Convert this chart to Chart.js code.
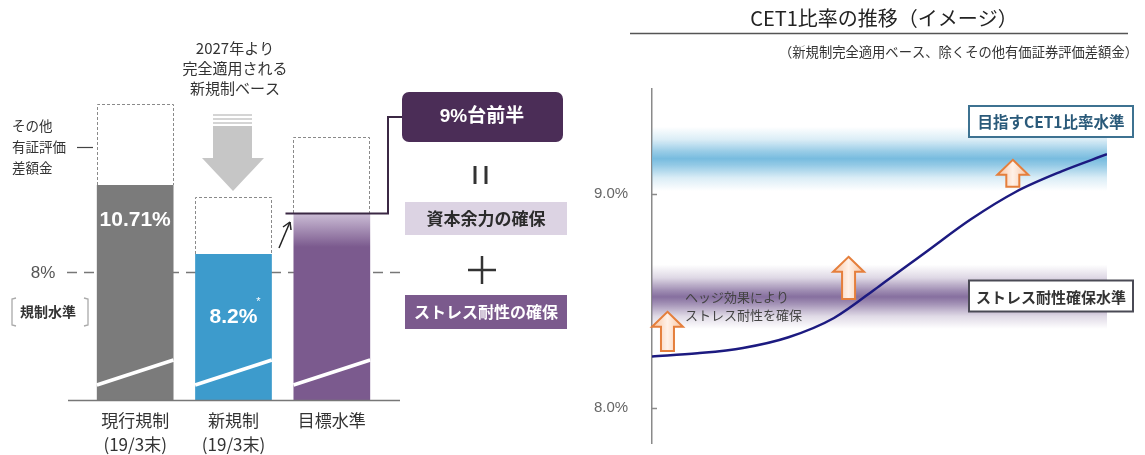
<!DOCTYPE html>
<html>
<head>
<meta charset="utf-8">
<script src="https://cdn.jsdelivr.net/npm/chart.js@4.4.1/dist/chart.umd.min.js"></script>
<style>
  html, body { margin: 0; padding: 0; background: #fff; }
  #wrap { position: relative; width: 1145px; height: 455px; overflow: hidden; }
  #left { position: absolute; left: 0; top: 0; }
  #right { position: absolute; left: 585px; top: 0; }
</style>
</head>
<body>
<div id="wrap">
  <canvas id="left" width="585" height="455"></canvas>
  <canvas id="right" width="560" height="455"></canvas>
</div>
<script>
// --- DATA ---
// left: bar heights are an image (イメージ) in chart units (8 = 規制水準)
const barCategories = [['現行規制', '(19/3末)'], ['新規制', '(19/3末)'], ['目標水準']];
const filledHeights = [13.44, 9.13, 11.69];
const outlineTops = [18.5, 12.69, 16.44];
const barValueLabels = ['10.71%', '8.2%', ''];
const regulatoryLevel = 8;

// right: CET1 ratio path
const xSteps = [0, 1, 2, 3, 4, 5, 6, 7, 8, 9, 10];
const cet1Ratio = [8.24, 8.255, 8.28, 8.33, 8.42, 8.57, 8.725, 8.88, 9.01, 9.105, 9.185];
const yTickValues = [8, 9];
const bandLevels = [9.164, 8.519];   // 目指すCET1比率水準, ストレス耐性確保水準
const bandHalf = 0.15;

// --- STYLE ---
const FONT = "'Liberation Sans', 'Noto Sans CJK JP', sans-serif";
const JP = "'Noto Sans CJK JP', sans-serif";
const barColors = ['#7b7b7b', '#3d9bcc', '#7b5a8e'];
const bandColors = ['112,184,221', '128,104,154'];

// annotation placement (x in data units, y in ratio units)
const upArrows = [
  { x: 0.34, tip: 8.449, base: 8.266 },
  { x: 4.32, tip: 8.706, base: 8.509 },
  { x: 7.93, tip: 9.159, base: 9.033 }
];

const line = (ctx, x1, y1, x2, y2) => {
  ctx.beginPath(); ctx.moveTo(x1, y1); ctx.lineTo(x2, y2); ctx.stroke();
};
const text = (ctx, str, x, y, font, color, align = 'center') => {
  ctx.font = font; ctx.fillStyle = color;
  ctx.textAlign = align; ctx.textBaseline = 'middle';
  ctx.fillText(str, x, y);
};

// --- LEFT CHART DECOR ---
const leftDecor = {
  id: 'leftDecor',
  beforeDatasetsDraw(chart) {
    const { ctx, scales: { y } } = chart;
    ctx.save();
    const ly = Math.round(y.getPixelForValue(regulatoryLevel)) + 0.5;
    ctx.strokeStyle = '#777'; ctx.lineWidth = 1.5; ctx.setLineDash([10, 7]);
    line(ctx, 67, ly, 400, ly);
    ctx.restore();
  },
  afterDatasetsDraw(chart) {
    const { ctx, chartArea: a } = chart;
    const filled = chart.getDatasetMeta(0).data;
    const upper = chart.getDatasetMeta(1).data;
    ctx.save();

    // dashed outline for その他有証評価差額金
    ctx.strokeStyle = '#8a8a8a'; ctx.lineWidth = 1; ctx.setLineDash([3, 2]);
    upper.forEach(b => {
      const l = Math.round(b.x - b.width / 2) + 0.5;
      const r = Math.round(b.x + b.width / 2) - 0.5;
      const t = Math.round(b.y) + 0.5;
      ctx.beginPath();
      ctx.moveTo(l, Math.round(b.base)); ctx.lineTo(l, t); ctx.lineTo(r, t); ctx.lineTo(r, Math.round(b.base));
      ctx.stroke();
    });
    ctx.setLineDash([]);

    // white break marks near the bottom
    ctx.strokeStyle = '#fff'; ctx.lineWidth = 3.5;
    filled.forEach(b => {
      line(ctx, b.x - b.width / 2, b.base - 15, b.x + b.width / 2, b.base - 40);
    });

    // baseline
    ctx.strokeStyle = '#777'; ctx.lineWidth = 1.5;
    line(ctx, 68, a.bottom + 0.5, 400, a.bottom + 0.5);

    // value labels
    const labelOffsets = [35, 63, 0];
    filled.forEach((b, i) => {
      if (!barValueLabels[i]) return;
      text(ctx, barValueLabels[i], b.x, b.y + labelOffsets[i], 'bold 21px ' + FONT, '#fff');
    });
    text(ctx, '*', filled[1].x + 25, filled[1].y + 48, '11px ' + FONT, '#fff');

    // connector from target bar to 9%台前半 box
    const t3 = filled[2];
    const ty = Math.round(t3.y) + 0.5;
    ctx.strokeStyle = '#3b2844'; ctx.lineWidth = 2;
    ctx.beginPath();
    ctx.moveTo(t3.x - t3.width / 2 - 8, ty);
    ctx.lineTo(388, ty); ctx.lineTo(388, 117); ctx.lineTo(403, 117);
    ctx.stroke();

    // small arrow from 新規制 toward 目標水準
    ctx.strokeStyle = '#222'; ctx.lineWidth = 1.5;
    line(ctx, 279, 248, 290, 222);
    line(ctx, 290, 222, 283, 227);
    line(ctx, 290, 222, 291, 230);

    // gray down arrow
    ctx.fillStyle = '#d4d4d4';
    [114, 118, 122].forEach(yy => ctx.fillRect(213, yy, 39, 2));
    ctx.fillStyle = '#c6c6c6';
    ctx.fillRect(213, 126, 39, 33);
    ctx.beginPath();
    ctx.moveTo(202, 158); ctx.lineTo(264, 158); ctx.lineTo(233, 191); ctx.closePath();
    ctx.fill();

    // heading above the arrow
    ['2027年より', '完全適用される', '新規制ベース'].forEach((s, i) =>
      text(ctx, s, 235, 48 + i * 20, '15px ' + JP, '#333'));

    // その他有証評価差額金
    ['その他', '有証評価', '差額金'].forEach((s, i) =>
      text(ctx, s, 12, 126 + i * 21, '13.5px ' + JP, '#333', 'left'));
    ctx.strokeStyle = '#444'; ctx.lineWidth = 1.2;
    line(ctx, 77, 147.5, 93, 147.5);

    // 8% 規制水準
    text(ctx, '8%', 43, 273, '17px ' + FONT, '#555');
    text(ctx, '規制水準', 48, 312, 'bold 14px ' + JP, '#333');
    ctx.strokeStyle = '#aaa'; ctx.lineWidth = 1.3;
    ctx.beginPath();
    ctx.moveTo(16, 298); ctx.lineTo(12, 299); ctx.lineTo(12, 325); ctx.lineTo(16, 326);
    ctx.moveTo(84, 298); ctx.lineTo(88, 299); ctx.lineTo(88, 325); ctx.lineTo(84, 326);
    ctx.stroke();

    // right-hand explanation boxes
    ctx.fillStyle = '#4b2d57';
    ctx.beginPath(); ctx.roundRect(402, 92, 161, 50, 7); ctx.fill();
    text(ctx, '9%台前半', 482, 117, 'bold 19px ' + FONT, '#fff');

    ctx.strokeStyle = '#333'; ctx.lineWidth = 3;
    line(ctx, 475, 166, 475, 184);
    line(ctx, 486, 166, 486, 184);

    ctx.fillStyle = '#dcd3e3';
    ctx.fillRect(405, 202, 162, 33);
    text(ctx, '資本余力の確保', 486, 219, 'bold 17px ' + JP, '#2b2b2b');

    ctx.lineWidth = 2.5;
    line(ctx, 468, 270, 496, 270);
    line(ctx, 482, 256, 482, 284);

    ctx.fillStyle = '#7b5a8d';
    ctx.fillRect(405, 295, 162, 34);
    text(ctx, 'ストレス耐性の確保', 486, 312, 'bold 16px ' + JP, '#fff');

    ctx.restore();
  }
};

const remainder = outlineTops.map((t, i) => t - filledHeights[i]);

new Chart(document.getElementById('left'), {
  type: 'bar',
  data: {
    labels: barCategories,
    datasets: [
      {
        data: filledHeights,
        backgroundColor: (c) => {
          const i = c.dataIndex;
          if (i !== 2) return barColors[i];
          const ch = c.chart;
          if (!ch.chartArea) return barColors[2];
          const top = ch.scales.y.getPixelForValue(filledHeights[2]);
          const g = ch.ctx.createLinearGradient(0, top, 0, top + 34);
          g.addColorStop(0, '#cdbfd7');
          g.addColorStop(1, barColors[2]);
          return g;
        },
        borderWidth: 0,
        barPercentage: 0.78,
        categoryPercentage: 1
      },
      {
        data: remainder,
        backgroundColor: '#fff',
        borderWidth: 0,
        barPercentage: 0.78,
        categoryPercentage: 1
      }
    ]
  },
  options: {
    responsive: false,
    animation: false,
    events: [],
    layout: { padding: { left: 86, right: 204, top: 80, bottom: 0 } },
    plugins: { legend: { display: false }, tooltip: { enabled: false } },
    scales: {
      x: {
        stacked: true,
        grid: { display: false, drawTicks: false },
        border: { display: false },
        ticks: {
          font: { family: JP, size: 17, lineHeight: 1.45 },
          color: '#333',
          padding: 8,
          maxRotation: 0,
          autoSkip: false
        },
        afterFit: (s) => { s.height = 55; }
      },
      y: { stacked: true, display: false, min: 0, max: 20 }
    }
  },
  plugins: [leftDecor]
});

// --- RIGHT CHART DECOR ---
const rightDecor = {
  id: 'rightDecor',
  beforeDatasetsDraw(chart) {
    const { ctx, chartArea: a, scales: { y } } = chart;
    ctx.save();
    bandLevels.forEach((lv, i) => {
      const c = y.getPixelForValue(lv);
      const h = y.getPixelForValue(lv - bandHalf) - c;
      const rgb = bandColors[i];
      const g = ctx.createLinearGradient(0, c - h, 0, c + h);
      g.addColorStop(0, `rgba(${rgb},0)`);
      g.addColorStop(0.2, `rgba(${rgb},0.25)`);
      g.addColorStop(0.4, `rgba(${rgb},0.75)`);
      g.addColorStop(0.5, `rgba(${rgb},0.95)`);
      g.addColorStop(0.6, `rgba(${rgb},0.75)`);
      g.addColorStop(0.8, `rgba(${rgb},0.25)`);
      g.addColorStop(1, `rgba(${rgb},0)`);
      ctx.fillStyle = g;
      ctx.fillRect(a.left, c - h, a.right - a.left, 2 * h);
    });
    ctx.restore();
  },
  afterDatasetsDraw(chart) {
    const { ctx, chartArea: a, scales: { x, y } } = chart;
    ctx.save();

    // inner tick marks
    ctx.strokeStyle = '#8a8a8a'; ctx.lineWidth = 1.5;
    yTickValues.forEach(v => {
      const py = Math.round(y.getPixelForValue(v)) + 0.5;
      line(ctx, a.left, py, a.left + 5, py);
    });

    // orange up arrows
    upArrows.forEach(ar => {
      const cx = x.getPixelForValue(ar.x);
      const tip = y.getPixelForValue(ar.tip);
      const base = y.getPixelForValue(ar.base);
      const hb = tip + 15;
      const g = ctx.createLinearGradient(cx - 15, 0, cx + 15, 0);
      g.addColorStop(0, '#f7c4a2');
      g.addColorStop(0.5, '#fff1e8');
      g.addColorStop(1, '#f7c4a2');
      ctx.beginPath();
      ctx.moveTo(cx, tip);
      ctx.lineTo(cx + 15.5, hb); ctx.lineTo(cx + 6.5, hb); ctx.lineTo(cx + 6.5, base);
      ctx.lineTo(cx - 6.5, base); ctx.lineTo(cx - 6.5, hb); ctx.lineTo(cx - 15.5, hb);
      ctx.closePath();
      ctx.fillStyle = g; ctx.fill();
      ctx.strokeStyle = '#e57f3c'; ctx.lineWidth = 2; ctx.lineJoin = 'miter';
      ctx.stroke();
    });

    // hedge note
    text(ctx, 'ヘッジ効果により', a.left + 33, 297, '13px ' + JP, '#444', 'left');
    text(ctx, 'ストレス耐性を確保', a.left + 33, 315, '13px ' + JP, '#444', 'left');

    // level boxes
    const boxes = [
      { label: '目指すCET1比率水準', cy: 121.5, stroke: '#3d7291', color: '#2a5a7a', font: 'bold 15.5px ' + JP },
      { label: 'ストレス耐性確保水準', cy: 296, stroke: '#4a4a55', color: '#333', font: 'bold 15px ' + JP }
    ];
    boxes.forEach(b => {
      const left = a.right - 138, w = 164, h = 31;
      ctx.fillStyle = '#fff';
      ctx.fillRect(left, b.cy - h / 2, w, h);
      ctx.strokeStyle = b.stroke; ctx.lineWidth = 2;
      ctx.strokeRect(left, b.cy - h / 2, w, h);
      text(ctx, b.label, left + w / 2, b.cy + 1, b.font, b.color);
    });
    ctx.restore();
  },
  afterDraw(chart) {
    const { ctx } = chart;
    ctx.save();
    text(ctx, 'CET1比率の推移（イメージ）', 299, 18, '20px ' + JP, '#222');
    ctx.strokeStyle = '#555'; ctx.lineWidth = 1.5;
    line(ctx, 45, 33.5, 543, 33.5);
    text(ctx, '（新規制完全適用ベース、除くその他有価証券評価差額金）', 553, 52, '13.3px ' + JP, '#333', 'right');
    ctx.restore();
  }
};

new Chart(document.getElementById('right'), {
  type: 'line',
  data: {
    datasets: [{
      data: cet1Ratio.map((v, i) => ({ x: xSteps[i], y: v })),
      borderColor: '#1c1a80',
      borderWidth: 2.5,
      pointRadius: 0,
      tension: 0.4,
      cubicInterpolationMode: 'monotone',
      fill: false
    }]
  },
  options: {
    responsive: false,
    animation: false,
    events: [],
    layout: { padding: { left: 9, right: 38, top: 89, bottom: 12 } },
    plugins: { legend: { display: false }, tooltip: { enabled: false } },
    scales: {
      x: { type: 'linear', min: 0, max: 10, display: false },
      y: {
        min: 7.836,
        max: 9.49,
        grid: { display: false, drawTicks: false },
        border: { display: true, color: '#8a8a8a', width: 1.5 },
        afterBuildTicks: (s) => { s.ticks = yTickValues.map(v => ({ value: v })); },
        afterFit: (s) => { s.width = 58; },
        ticks: {
          font: { family: FONT, size: 15 },
          color: '#666',
          padding: 0,
          crossAlign: 'far',
          callback: (v) => v.toFixed(1) + '%'
        }
      }
    }
  },
  plugins: [rightDecor]
});
</script>
</body>
</html>
